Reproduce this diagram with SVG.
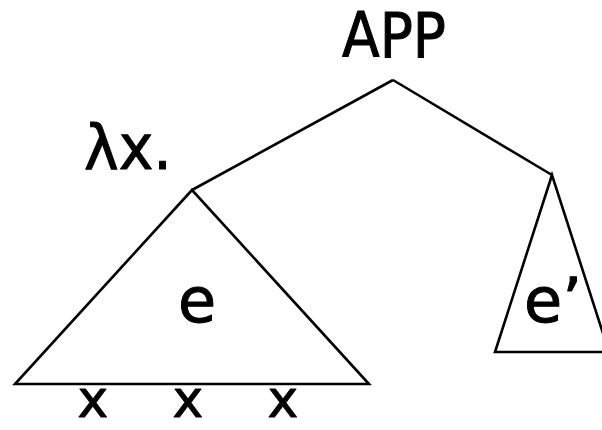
<svg xmlns="http://www.w3.org/2000/svg" width="602" height="430" viewBox="0 0 602 430">
<style>
.t{font-family:"DejaVu Sans","Liberation Sans",sans-serif;fill:#000;stroke:#000;stroke-width:1;stroke-linejoin:round}
.s{fill:none;stroke:#000;stroke-width:2.6;stroke-linejoin:miter}
</style>
<rect width="602" height="430" fill="#fff"/>
<g id="connectors">
<line class="s" x1="393" y1="80" x2="192" y2="190"/>
<line class="s" x1="393" y1="80" x2="552" y2="175"/>
</g>
<g id="app">
<text class="t" x="394" y="57" font-size="62" text-anchor="middle" textLength="104" lengthAdjust="spacingAndGlyphs">APP</text>
</g>
<g id="lambda">
<text class="t" x="84" y="169" font-size="62" textLength="88" lengthAdjust="spacingAndGlyphs">λx.</text>
</g>
<g id="left-tree">
<polygon class="s" points="192,190 15,384 369,384"/>
<text class="t" x="197" y="322" font-size="62" text-anchor="middle">e</text>
</g>
<g id="right-tree">
<polygon class="s" points="552,175 495,352 609,352"/>
<text class="t" x="524" y="322" font-size="62">e’</text>
</g>
<g id="vars">
<text class="t" x="93" y="417" font-size="52" text-anchor="middle">x</text>
<text class="t" x="188" y="417" font-size="52" text-anchor="middle">x</text>
<text class="t" x="283" y="417" font-size="52" text-anchor="middle">x</text>
</g>
</svg>
